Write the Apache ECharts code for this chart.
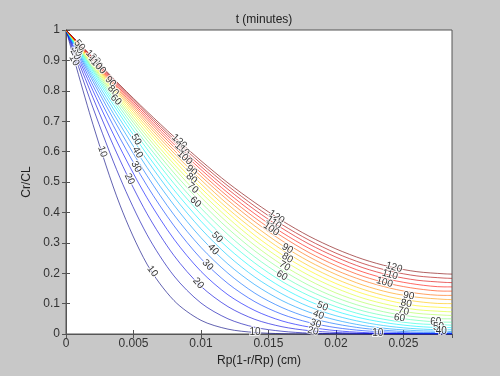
<!DOCTYPE html>
<html>
<head>
<meta charset="utf-8">
<script src="https://cdn.jsdelivr.net/npm/echarts@6/dist/echarts.min.js"></script>
<style>
  html, body { margin: 0; padding: 0; background: #c8c8c8; }
  #chart { width: 500px; height: 376px; }
</style>
</head>
<body>
<div id="chart"></div>
<script>
// depth into the particle, Rp(1-r/Rp) in cm
const depths = [0, 0.002, 0.004, 0.006, 0.008, 0.010, 0.012, 0.014, 0.016, 0.018, 0.020, 0.022, 0.024, 0.026, 0.028, 0.0286];

// contour times (minutes)
const times = [10, 15, 20, 25, 30, 35, 40, 45, 50, 55, 60, 65, 70, 75, 80, 85, 90, 95, 100, 105, 110, 115, 120];

// Cr/CL along each contour, one row per time
const profiles = [
  [1, 0.689, 0.424, 0.230, 0.110, 0.045, 0.016, 0.005, 0.001, 0.000, 0.000, 0.000, 0.000, 0.000, 0.000, 0.000],
  [1, 0.744, 0.514, 0.327, 0.191, 0.102, 0.050, 0.022, 0.009, 0.003, 0.001, 0.000, 0.000, 0.000, 0.000, 0.000],
  [1, 0.777, 0.572, 0.396, 0.258, 0.157, 0.090, 0.048, 0.024, 0.011, 0.005, 0.002, 0.001, 0.000, 0.000, 0.000],
  [1, 0.800, 0.613, 0.448, 0.312, 0.206, 0.129, 0.077, 0.043, 0.023, 0.011, 0.005, 0.002, 0.001, 0.001, 0.001],
  [1, 0.817, 0.644, 0.488, 0.356, 0.248, 0.166, 0.106, 0.065, 0.038, 0.021, 0.011, 0.006, 0.003, 0.002, 0.002],
  [1, 0.831, 0.669, 0.521, 0.392, 0.285, 0.200, 0.134, 0.087, 0.054, 0.033, 0.019, 0.011, 0.006, 0.005, 0.004],
  [1, 0.841, 0.689, 0.548, 0.424, 0.317, 0.230, 0.162, 0.110, 0.072, 0.046, 0.028, 0.017, 0.011, 0.009, 0.008],
  [1, 0.850, 0.706, 0.572, 0.451, 0.346, 0.258, 0.187, 0.132, 0.090, 0.060, 0.039, 0.025, 0.017, 0.014, 0.014],
  [1, 0.858, 0.721, 0.591, 0.474, 0.371, 0.283, 0.211, 0.153, 0.108, 0.075, 0.051, 0.035, 0.025, 0.021, 0.021],
  [1, 0.865, 0.733, 0.609, 0.495, 0.394, 0.306, 0.233, 0.173, 0.126, 0.090, 0.063, 0.045, 0.034, 0.030, 0.029],
  [1, 0.870, 0.744, 0.624, 0.514, 0.414, 0.327, 0.253, 0.192, 0.143, 0.105, 0.076, 0.057, 0.045, 0.039, 0.039],
  [1, 0.875, 0.754, 0.638, 0.530, 0.433, 0.347, 0.273, 0.211, 0.160, 0.120, 0.090, 0.069, 0.056, 0.050, 0.050],
  [1, 0.880, 0.762, 0.650, 0.546, 0.450, 0.365, 0.291, 0.228, 0.177, 0.135, 0.104, 0.082, 0.068, 0.062, 0.061],
  [1, 0.884, 0.770, 0.661, 0.559, 0.466, 0.382, 0.308, 0.245, 0.193, 0.151, 0.118, 0.095, 0.080, 0.074, 0.073],
  [1, 0.888, 0.777, 0.672, 0.572, 0.480, 0.398, 0.324, 0.261, 0.209, 0.166, 0.133, 0.109, 0.093, 0.087, 0.086],
  [1, 0.891, 0.784, 0.681, 0.584, 0.494, 0.412, 0.340, 0.277, 0.224, 0.181, 0.147, 0.122, 0.107, 0.100, 0.100],
  [1, 0.894, 0.790, 0.690, 0.595, 0.507, 0.426, 0.355, 0.292, 0.239, 0.196, 0.161, 0.136, 0.121, 0.114, 0.113],
  [1, 0.897, 0.796, 0.698, 0.605, 0.519, 0.440, 0.369, 0.307, 0.254, 0.210, 0.176, 0.151, 0.134, 0.127, 0.127],
  [1, 0.900, 0.801, 0.706, 0.615, 0.530, 0.452, 0.382, 0.321, 0.268, 0.225, 0.190, 0.165, 0.149, 0.141, 0.141],
  [1, 0.902, 0.806, 0.713, 0.624, 0.541, 0.464, 0.395, 0.334, 0.282, 0.239, 0.204, 0.179, 0.163, 0.155, 0.155],
  [1, 0.905, 0.811, 0.720, 0.633, 0.551, 0.476, 0.408, 0.348, 0.296, 0.253, 0.218, 0.193, 0.177, 0.170, 0.169],
  [1, 0.907, 0.815, 0.726, 0.641, 0.561, 0.487, 0.420, 0.360, 0.309, 0.266, 0.232, 0.207, 0.191, 0.184, 0.183],
  [1, 0.910, 0.819, 0.732, 0.649, 0.570, 0.497, 0.432, 0.373, 0.322, 0.280, 0.246, 0.221, 0.205, 0.198, 0.197]
];

// inline contour labels: text, depth, Cr/CL, angle
const labelText = ['10', '20', '30', '40', '50',
  '10', '20', '30', '40', '50',
  '120', '110', '100', '90', '80', '70', '60',
  '10', '20', '30', '40', '50',
  '120', '110', '100', '90', '80', '70', '60',
  '10', '20', '30', '40', '50',
  '10', '120', '110', '100', '90', '80', '70', '60',
  '60', '50', '40',
  '120', '110', '100', '90', '80', '60'];
const labelX = [0.0006, 0.0007, 0.0008, 0.0009, 0.0010,
  0.0027, 0.0047, 0.0052, 0.0053, 0.0052,
  0.0084, 0.0086, 0.0088, 0.0093, 0.0093, 0.0094, 0.0096,
  0.0064, 0.0098, 0.0105, 0.0109, 0.0112,
  0.0156, 0.0154, 0.0152, 0.0164, 0.0164, 0.0162, 0.0160,
  0.0140, 0.0183, 0.0185, 0.0187, 0.0190,
  0.0231, 0.0243, 0.0240, 0.0236, 0.0254, 0.0252, 0.0250, 0.0247,
  0.0274, 0.0276, 0.0278,
  0.0020, 0.0022, 0.0024, 0.0033, 0.0035, 0.0037];
const labelY = [0.90, 0.92, 0.93, 0.94, 0.95,
  0.600, 0.510, 0.550, 0.597, 0.640,
  0.633, 0.608, 0.580, 0.538, 0.512, 0.480, 0.434,
  0.206, 0.167, 0.227, 0.278, 0.318,
  0.385, 0.366, 0.345, 0.281, 0.250, 0.223, 0.192,
  0.005, 0.010, 0.034, 0.063, 0.091,
  0.002, 0.219, 0.195, 0.170, 0.126, 0.100, 0.075, 0.053,
  0.040, 0.022, 0.010,
  0.910, 0.893, 0.880, 0.830, 0.800, 0.770];
const labelAngle = [-60, -60, -55, -55, -50,
  -71, -63, -60, -60, -58,
  -42, -42, -42, -40, -40, -40, -40,
  -53, -49, -45, -45, -45,
  -34, -34, -34, -30, -30, -30, -30,
  0, -15, -18, -20, -22,
  0, -16, -16, -16, -10, -10, -10, -10,
  0, 0, 0,
  -45, -45, -45, -45, -45, -45];

// jet colormap, one entry per contour level
const jet = ['#000080', '#0000ae', '#0000dc', '#000cff', '#003aff', '#0068ff', '#0097ff', '#00c5ff',
  '#00f3ff', '#23ffdc', '#51ffae', '#80ff80', '#aeff51', '#dcff23', '#fff300', '#ffc500',
  '#ff9700', '#ff6800', '#ff3a00', '#ff0c00', '#dc0000', '#ae0000', '#800000'];

const chart = echarts.init(document.getElementById('chart'), null, { renderer: 'canvas' });

const axisColor = '#555';
const font = 'Liberation Sans, Arial, sans-serif';
const tickFont = { color: '#333', fontSize: 12, fontFamily: font };

const lineSeries = times.map((t, i) => ({
  name: String(t),
  type: 'line',
  data: depths.map((x, j) => [x, profiles[i][j]]),
  smooth: 0.3,
  symbol: 'none',
  lineStyle: { color: jet[i], width: 1, opacity: 0.62 },
  z: 2,
  silent: true
}));

const labelSeries = {
  type: 'scatter',
  symbolSize: 0,
  silent: true,
  z: 5,
  data: labelText.map((s, i) => ({
    value: [labelX[i], labelY[i]],
    label: { rotate: labelAngle[i], formatter: s }
  })),
  label: {
    show: true,
    position: 'inside',
    color: '#000',
    fontSize: 10,
    fontFamily: font,
    textBorderColor: '#fff',
    textBorderWidth: 2
  }
};

chart.setOption({
  animation: false,
  backgroundColor: '#c8c8c8',
  title: {
    text: 't (minutes)',
    left: 259,
    top: 9,
    textAlign: 'center',
    textStyle: { color: '#222', fontSize: 12, fontWeight: 'normal', fontFamily: font }
  },
  grid: {
    left: 66, right: 48, top: 30, bottom: 42,
    show: true,
    backgroundColor: '#ffffff',
    borderColor: axisColor,
    borderWidth: 1
  },
  xAxis: [
    {
      type: 'value',
      min: 0, max: 0.0286, interval: 0.005,
      name: 'Rp(1-r/Rp) (cm)',
      nameLocation: 'middle',
      nameGap: 18,
      nameTextStyle: { color: '#222', fontSize: 12, fontFamily: font },
      axisLine: { show: true, lineStyle: { color: axisColor } },
      axisTick: { show: true, inside: true, length: 4, lineStyle: { color: axisColor } },
      axisLabel: Object.assign({ margin: 4, showMaxLabel: false }, tickFont),
      splitLine: { show: false }
    },
    {
      type: 'value',
      position: 'top',
      min: 0, max: 0.0286, interval: 0.005,
      axisLine: { show: true, lineStyle: { color: axisColor } },
      axisTick: { show: true, inside: true, length: 4, lineStyle: { color: axisColor } },
      axisLabel: { show: false },
      splitLine: { show: false }
    }
  ],
  yAxis: [
    {
      type: 'value',
      min: 0, max: 1, interval: 0.1,
      name: 'Cr/CL',
      nameLocation: 'middle',
      nameGap: 29,
      nameTextStyle: { color: '#222', fontSize: 12, fontFamily: font },
      axisLine: { show: true, lineStyle: { color: axisColor } },
      axisTick: { show: true, inside: true, length: 4, lineStyle: { color: axisColor } },
      axisLabel: Object.assign({ margin: 6 }, tickFont),
      splitLine: { show: false }
    },
    {
      type: 'value',
      position: 'right',
      min: 0, max: 1, interval: 0.1,
      axisLine: { show: true, lineStyle: { color: axisColor } },
      axisTick: { show: true, inside: true, length: 4, lineStyle: { color: axisColor } },
      axisLabel: { show: false },
      splitLine: { show: false }
    }
  ],
  series: lineSeries.concat([labelSeries])
});
</script>
</body>
</html>
